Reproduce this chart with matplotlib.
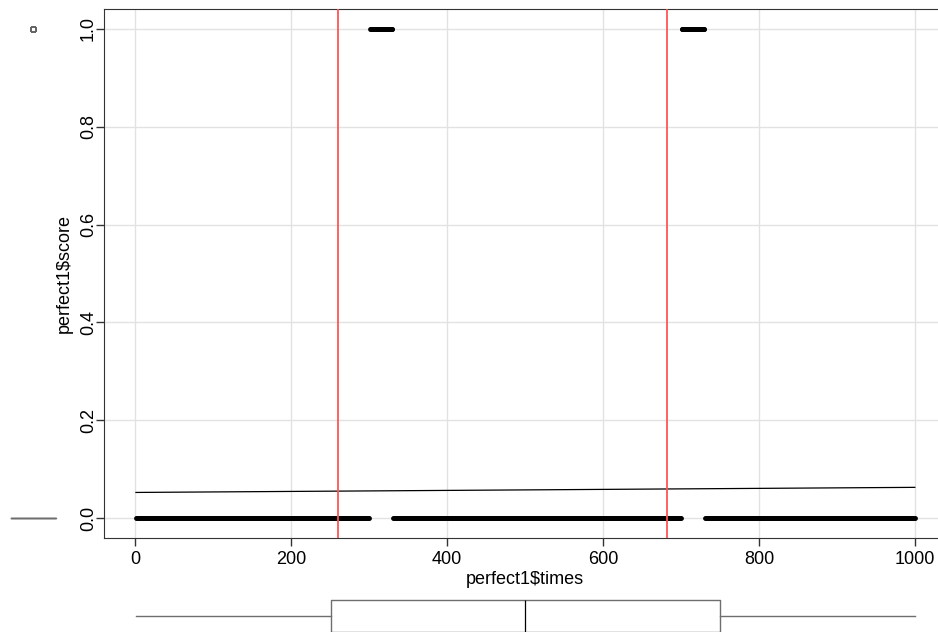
import matplotlib
matplotlib.use("Agg")
import matplotlib.pyplot as plt
import numpy as np

plt.rcParams['font.family'] = ['Liberation Sans', 'DejaVu Sans']

# runs of constant score along times 1..1000
seg_start = [1, 301, 331, 701, 731]
seg_end = [300, 330, 700, 730, 1000]
seg_score = [0, 1, 0, 1, 0]

# linear fit score ~ times
fit_intercept = 0.053
fit_slope = 0.0000104

# vertical reference lines
vlines_x = [260, 682]

xticks = [0, 200, 400, 600, 800, 1000]
yticks = [0.0, 0.2, 0.4, 0.6, 0.8, 1.0]

times = np.concatenate([np.arange(s, e + 1) for s, e in zip(seg_start, seg_end)])
score = np.concatenate([np.full(e - s + 1, v) for s, e, v in zip(seg_start, seg_end, seg_score)])

W, H = 938, 632
fig = plt.figure(figsize=(W / 100, H / 100), dpi=100)


def px(l, t, r, b):
    return [l / W, 1 - b / H, (r - l) / W, (b - t) / H]


ax = fig.add_axes(px(104, 9, 946, 538))
ax.set_xlim(-40, 1040)
ax.set_ylim(-0.04, 1.04)
ax.set_xticks(xticks)
ax.set_yticks(yticks)
ax.set_yticklabels([f"{v:.1f}" for v in yticks], rotation=90, va='center')
ax.grid(True, color='#e2e2e2', lw=1)
ax.set_axisbelow(True)
ax.tick_params(direction='out', length=6, width=1, labelsize=13, color='#333333')
ax.tick_params(axis='y', pad=-1)
for sp in ax.spines.values():
    sp.set_color('#333333')
ax.set_xlabel("perfect1$times", fontsize=13, labelpad=2)
ax.set_ylabel("perfect1$score", fontsize=13, labelpad=5)

ax.scatter(times, score, s=12, c='k', linewidths=0, zorder=3)
xs = np.array([times.min(), times.max()])
ax.plot(xs, fit_intercept + fit_slope * xs, color='k', lw=0.9, zorder=4)
for v in vlines_x:
    ax.axvline(v, color='#ff5555', lw=1.3, zorder=5)

# marginal boxplot for score (left)
axl = fig.add_axes(px(0, 9, 66, 538), sharey=ax)
axl.boxplot(score, positions=[33], widths=45, showcaps=False,
            boxprops=dict(color='#6e6e6e', lw=1), whiskerprops=dict(color='#6e6e6e'),
            medianprops=dict(color='#6e6e6e', lw=1),
            flierprops=dict(marker='o', markersize=4, markerfacecolor='none',
                            markeredgecolor='#666666', markeredgewidth=0.7))
axl.set_xlim(0, 66)
axl.axis('off')

# marginal boxplot for times (bottom)
axb = fig.add_axes(px(104, 592, 946, 640), sharex=ax)
axb.boxplot(times, vert=False, positions=[0.5], widths=0.66, showcaps=False,
            whis=3, boxprops=dict(color='#6e6e6e', lw=1),
            whiskerprops=dict(color='#6e6e6e', lw=1),
            medianprops=dict(color='k', lw=0.9), showfliers=False)
axb.set_ylim(0, 1)
axb.axis('off')

fig.savefig("out.png", dpi=100)
